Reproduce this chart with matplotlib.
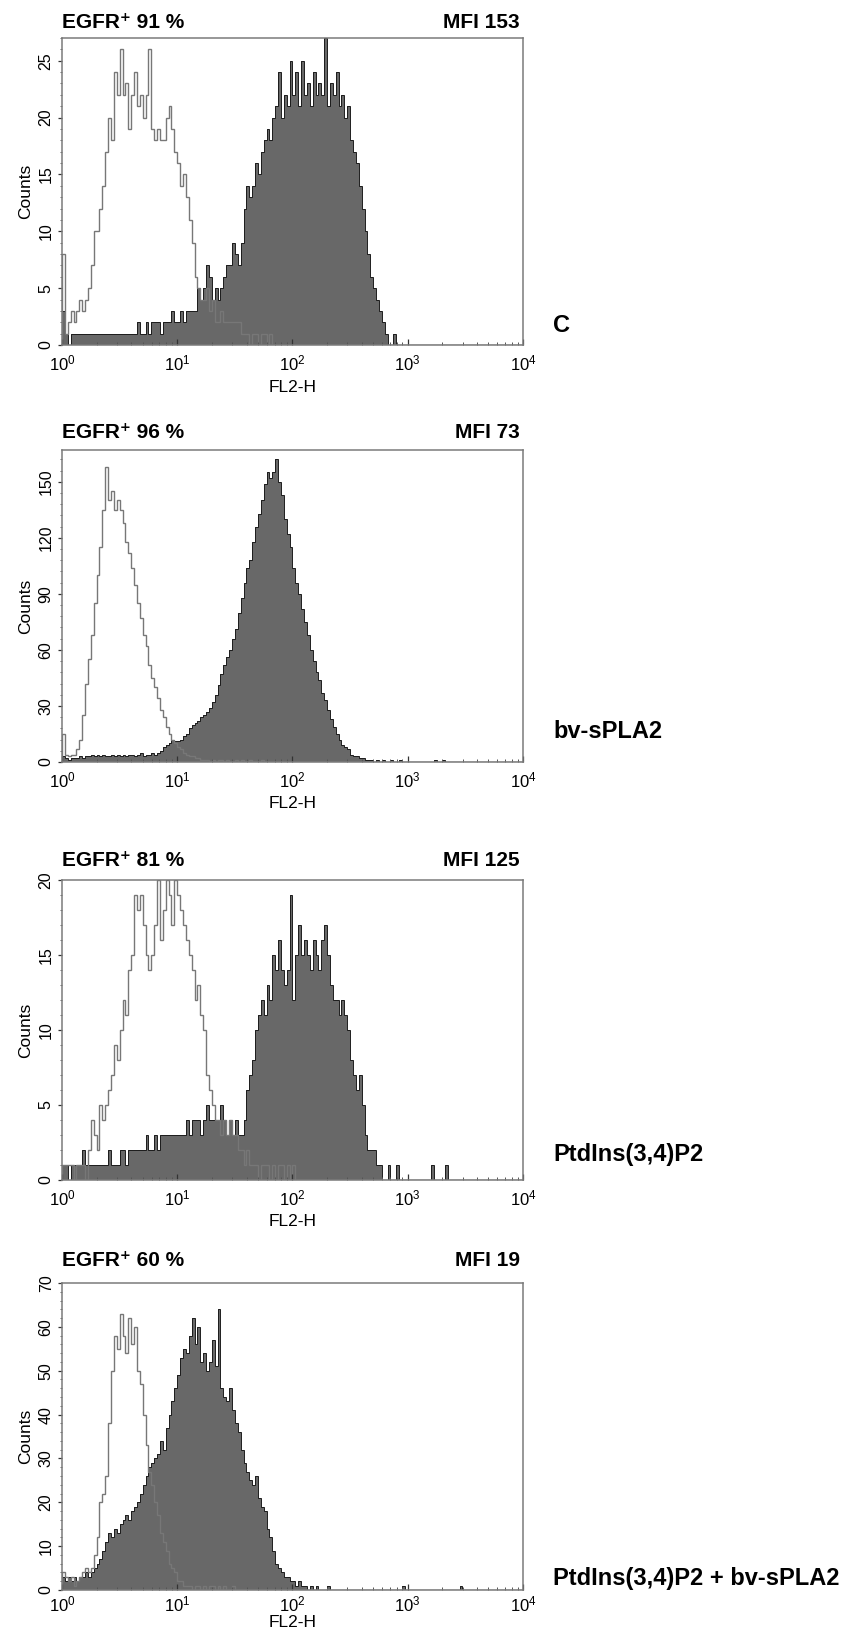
import numpy as np
import matplotlib
matplotlib.use("Agg")
import matplotlib.pyplot as plt
from matplotlib.ticker import LogLocator, MultipleLocator, NullFormatter

plt.rcParams["font.family"] = ["Liberation Sans", "DejaVu Sans"]
plt.rcParams["mathtext.fontset"] = "custom"
plt.rcParams["mathtext.rm"] = "Liberation Sans"
plt.rcParams["mathtext.it"] = "Liberation Sans:italic"
plt.rcParams["mathtext.bf"] = "Liberation Sans:bold"

# ---- data: counts per channel, 40 channels per decade from 10^0 ------------
BINS_PER_DECADE = 40
N_BINS = 4 * BINS_PER_DECADE

conditions = ["C", "bv-sPLA2", "PtdIns(3,4)P2", "PtdIns(3,4)P2 + bv-sPLA2"]
egfr_pos = [91, 96, 81, 60]
mfi = [153, 73, 125, 19]
y_max = [27, 167, 20, 70]
y_step = [5, 30, 5, 10]

# open (isotype control) histograms
open_c = [8, 1, 2, 3, 2, 3, 4, 3, 4, 5, 7, 10, 10, 12, 14, 17, 20, 18, 24, 22,
          26, 22, 23, 19, 22, 24, 21, 22, 20, 22, 26, 19, 18, 19, 18, 18, 20, 21, 19, 17,
          16, 14, 15, 13, 11, 9, 6, 5, 4, 4, 5, 3, 4, 2, 2, 3, 2, 2, 2, 2,
          2, 2, 1, 1, 1, 0, 1, 1, 0, 1, 1, 0, 1]
open_bv = [15, 4, 3, 4, 4, 7, 12, 25, 42, 55, 68, 85, 100, 115, 135, 158, 140, 145, 135, 140,
           135, 128, 118, 112, 104, 95, 85, 77, 68, 62, 52, 45, 40, 34, 28, 24, 19, 15, 12, 10,
           8, 7, 5, 4, 3, 3, 2, 2, 1, 1, 1, 0, 1, 0, 1, 1, 0, 1, 0, 0,
           1, 0, 1, 0, 0, 1, 0, 0, 0, 1]
open_pip = [1, 1, 1, 1, 0, 1, 1, 1, 0, 2, 4, 3, 2, 5, 4, 5, 6, 7, 9, 8,
            10, 12, 11, 14, 15, 19, 18, 19, 17, 15, 14, 15, 17, 20, 16, 18, 20, 19, 17, 20,
            19, 18, 17, 16, 15, 14, 12, 13, 11, 10, 7, 6, 5, 4, 4, 3, 4, 3, 4, 3,
            3, 2, 2, 1, 2, 1, 1, 1, 0, 1, 1, 1, 0, 1, 0, 1, 1, 0, 1, 0, 1]
open_pip_bv = [4, 3, 2, 3, 1, 2, 3, 4, 5, 4, 5, 8, 12, 20, 22, 26, 38, 50, 58, 55,
               63, 58, 54, 62, 56, 60, 50, 47, 40, 33, 27, 24, 20, 17, 13, 11, 9, 6, 5, 4,
               2, 2, 1, 1, 1, 0, 1, 1, 0, 1, 0, 1, 1, 0, 1, 0, 1, 0, 0, 1, 0]

# filled (anti-EGFR) histograms
filled_c = [3, 1, 0, 1, 1, 1, 1, 1, 1, 1, 1,
            1, 1, 1, 1, 1, 1, 1, 1, 1, 1, 1, 1, 1, 1, 1, 2, 1, 1,
            2, 1, 2, 2, 2, 1, 2, 2, 2, 3, 2, 2, 3, 2, 3, 3, 3, 3,
            5, 4, 5, 7, 6, 4, 5, 4, 5, 6, 7, 7, 9, 8, 7, 9,
            12, 14, 13, 14, 16, 15, 17, 18, 19, 18, 20, 21, 24, 20, 22, 21, 25, 22,
            24, 21, 25, 22, 23, 21, 24, 22, 23, 22, 27, 21, 23, 22, 24, 21, 22, 20, 21,
            18, 17, 16, 14, 12, 10, 8, 6, 5, 4, 3, 2, 1, 0, 0, 1]
filled_bv = [3, 2, 1, 2, 2, 2, 3, 2, 3, 3, 4,
             3, 4, 3, 4, 3, 3, 4, 3, 4, 3, 4, 3, 4, 4, 3, 4, 5, 3, 4, 4,
             5, 4, 5, 6, 8, 9, 10, 12, 11, 11, 12, 14, 15, 18, 20, 21, 22, 24, 25, 27,
             29, 32, 36, 41, 47, 52, 56, 60, 66, 71, 80, 88, 96, 104, 108, 118, 126, 133, 140, 149,
             155, 152, 155, 162, 150, 143, 130, 122, 115, 104, 96, 90, 82, 75, 68, 60, 54, 48, 44, 37,
             33, 28, 23, 19, 15, 12, 9, 8, 7, 4, 3, 3, 2, 2, 1,
             1, 1, 0, 1, 0, 1, 0, 0, 1, 0, 0, 1, 0, 0, 0,
             0, 0, 0, 0, 0, 0, 0, 0, 1, 0, 0, 1]
filled_pip = [1, 1, 0, 1, 1, 1, 1, 2, 1, 1,
              1, 1, 1, 1, 1, 1, 2, 1, 1, 1, 2, 2, 1, 2,
              2, 2, 2, 2, 2, 3, 2, 2, 3, 2, 3, 3, 3, 3,
              3, 3, 3, 3, 3, 4, 3, 4, 4, 4, 3, 4, 5, 4, 4,
              4, 4, 5, 4, 3, 4, 3, 4, 3, 3, 4,
              6, 7, 8, 10, 11, 12, 11, 13, 12, 15, 14, 16, 14, 13, 14, 19, 12,
              15, 17, 15, 16, 15, 14, 16, 15, 14, 16, 17, 15, 13, 12, 12, 11, 12, 11, 10,
              8, 7, 6, 7, 5, 3, 2, 2, 2, 1, 1,
              0, 0, 1, 0, 0, 1, 0, 0, 0, 0, 0, 0, 0, 0, 0, 0, 0, 1, 0, 0, 0, 0, 1]
filled_pip_bv = [3, 2, 3, 2, 3, 2, 3, 3, 4, 3, 4, 5,
                 6, 7, 9, 11, 13, 12, 14, 13, 15, 16, 17, 16, 18, 19, 20, 22, 24, 26, 28,
                 29, 30, 31, 34, 32, 37, 40, 43, 46, 49, 53, 55, 54, 58, 62, 56, 60, 52, 54, 50,
                 52, 57, 51, 64, 46, 44, 43, 46, 41, 38, 36, 32, 29, 27, 25, 24, 26, 21, 19, 18,
                 14, 12, 9, 6, 5, 4, 3, 3, 2, 2, 1, 2, 1, 1, 0, 1, 0, 1, 0, 0, 0, 1,
                 0, 0, 0, 0, 0, 0, 0, 0, 0, 0, 0, 0, 0, 0, 0, 0, 0, 0, 0, 0, 0, 0, 0, 0, 0, 1,
                 0, 0, 0, 0, 0, 0, 0, 0, 0, 0, 0, 0, 0, 0, 0, 0, 0, 0, 0, 1]

open_sets = [open_c, open_bv, open_pip, open_pip_bv]
filled_sets = [filled_c, filled_bv, filled_pip, filled_pip_bv]


def pad(v):
    v = list(v)[:N_BINS]
    return np.array(v + [0] * (N_BINS - len(v)), dtype=float)


edges = 10.0 ** (np.arange(N_BINS + 1) / BINS_PER_DECADE)

# ---- layout (pixels) ---------------------------------------------------------
W, H = 853, 1634
LEFT, RIGHT = 62, 523
panels = [(38, 345), (450, 762), (880, 1180), (1283, 1590)]
header_y = [23, 432, 861, 1260]
label_y = [325, 732, 1155, 1578]
tick_pad = [6, 6, 6, 3]      # last panel sits at the bottom edge
xlabel_pad = [5, 4, 4, 1]

SPINE = "#7a7a7a"
fig = plt.figure(figsize=(W / 100, H / 100), dpi=100)

for i, (top, bot) in enumerate(panels):
    ax = fig.add_axes([LEFT / W, 1 - bot / H, (RIGHT - LEFT) / W, (bot - top) / H])
    ax.stairs(pad(filled_sets[i]), edges, fill=True, color="#686868", lw=0)
    ax.stairs(pad(filled_sets[i]), edges, color="#1c1c1c", lw=0.7)
    ax.stairs(pad(open_sets[i]), edges, color="#777777", lw=1.0)

    ax.set_xscale("log")
    ax.set_xlim(1, 1e4)
    ax.set_ylim(0, y_max[i])
    ax.xaxis.set_major_locator(LogLocator(base=10, numticks=10))
    ax.xaxis.set_minor_locator(LogLocator(base=10, subs=np.arange(2, 10), numticks=20))
    ax.xaxis.set_minor_formatter(NullFormatter())
    ax.yaxis.set_major_locator(MultipleLocator(y_step[i]))
    ax.yaxis.set_minor_locator(MultipleLocator(y_step[i] / 5))

    for s in ax.spines.values():
        s.set_color(SPINE)
        s.set_linewidth(1.1)
    ax.tick_params(axis="x", which="major", direction="in", length=4, width=0.9,
                   color="#333333", labelsize=12, pad=tick_pad[i])
    ax.tick_params(axis="x", which="minor", direction="in", length=2.5, width=0.7,
                   color="#555555")
    ax.tick_params(axis="y", which="major", direction="out", length=3, width=0.9,
                   color="#333333", labelsize=11.5, pad=3, labelrotation=90)
    ax.tick_params(axis="y", which="minor", direction="out", length=1.5, width=0.6,
                   color="#555555")
    for lbl in ax.get_yticklabels():
        lbl.set_va("center")
    ax.set_xlabel("FL2-H", fontsize=12.5, labelpad=xlabel_pad[i])
    ax.set_ylabel("Counts", fontsize=12.5, labelpad=4)

    fig.text(LEFT / W, 1 - header_y[i] / H, f"EGFR\u207a {egfr_pos[i]} %",
             fontsize=15, fontweight="bold", ha="left", va="center")
    fig.text((RIGHT - 3) / W, 1 - header_y[i] / H, f"MFI {mfi[i]}",
             fontsize=15, fontweight="bold", ha="right", va="center")
    fig.text(553 / W, 1 - label_y[i] / H, conditions[i],
             fontsize=17, fontweight="bold", ha="left", va="center")

fig.savefig("out.png", dpi=100)
